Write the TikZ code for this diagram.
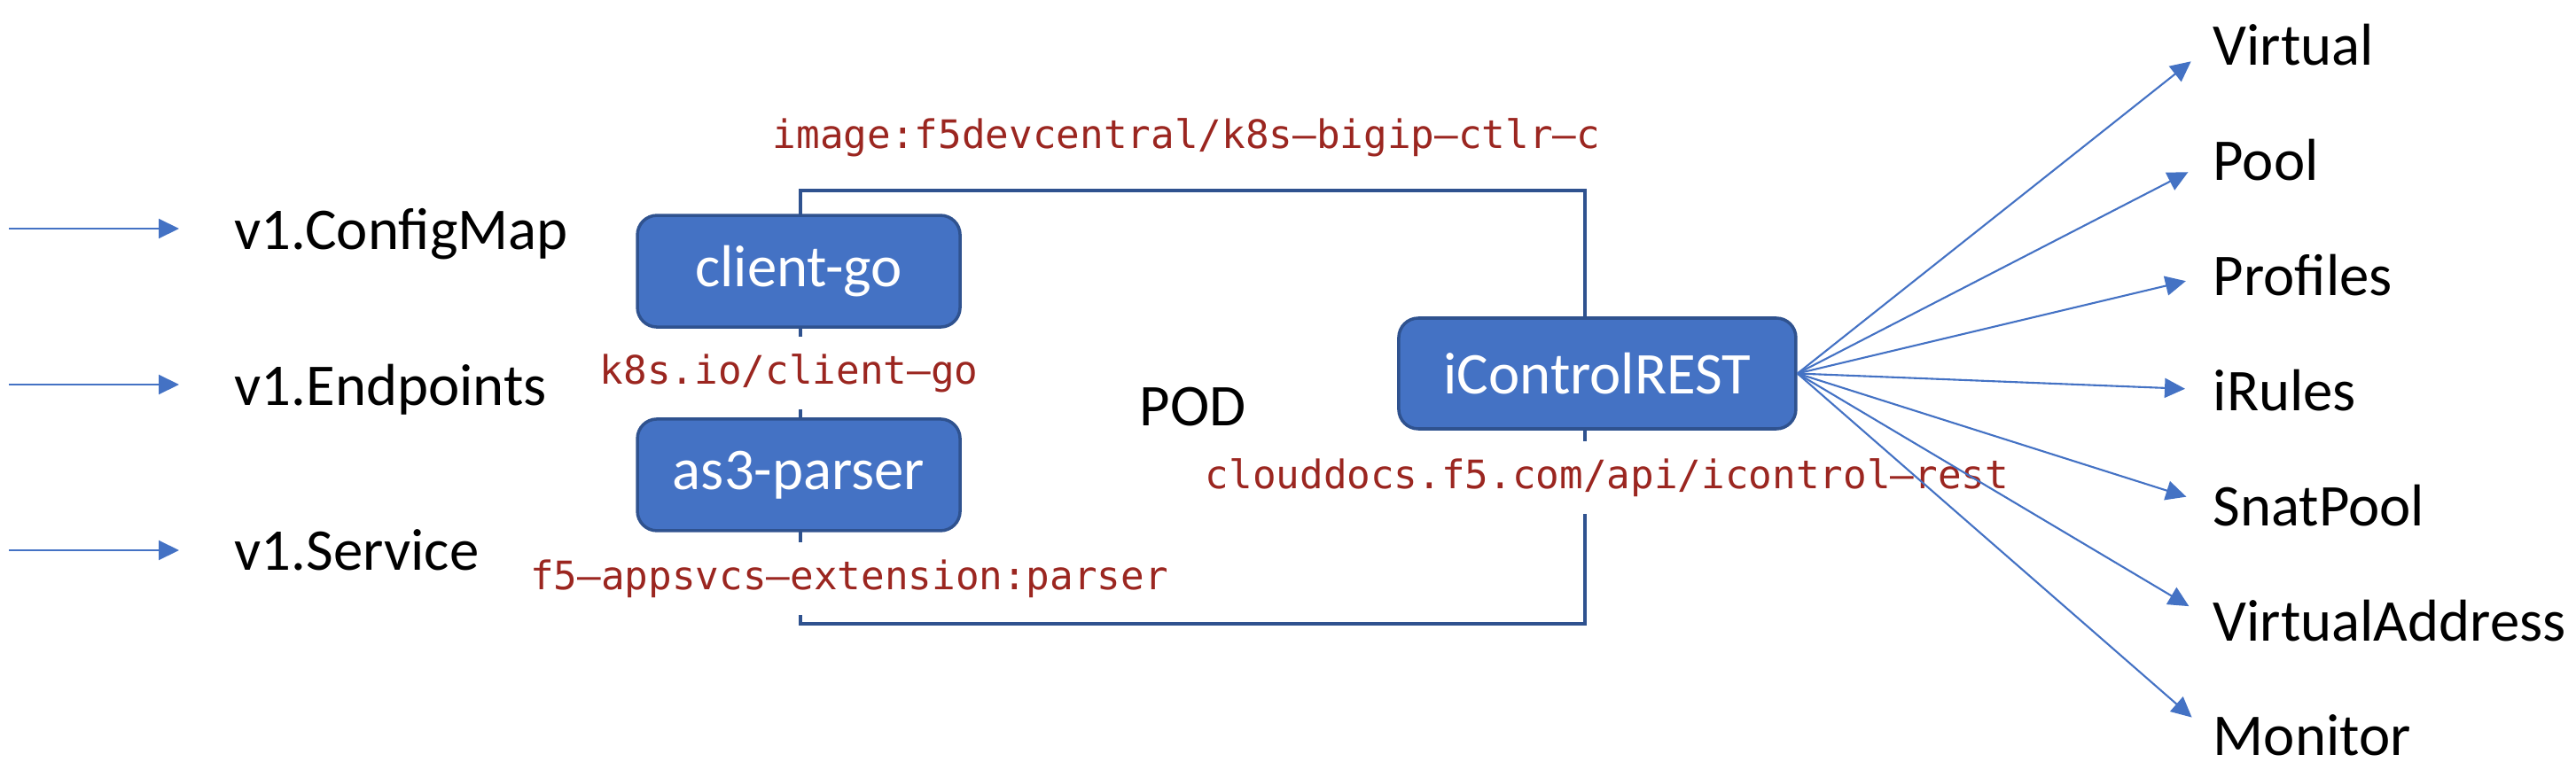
\documentclass[tikz,border=0pt]{standalone}
\usepackage{fontspec}
\setmainfont{Carlito}
\newfontfamily\codefont{DejaVu Sans Mono}
\usetikzlibrary{positioning, calc, arrows.meta}

\definecolor{boxblue}{HTML}{4472C4}
\definecolor{edgeblue}{HTML}{2F528F}
\definecolor{codered}{RGB}{155,38,32}

\begin{document}
\begin{tikzpicture}[
    block/.style={rectangle, rounded corners=0.22cm, draw=edgeblue, line width=1pt, fill=boxblue, text=white, font=\fontsize{19}{23}\selectfont},
    apiobj/.style={inner sep=0pt, anchor=west, text depth=0pt, font=\fontsize{19}{23}\selectfont},
    link/.style={draw=boxblue, line width=0.6pt, -{Triangle[length=0.23cm, width=0.22cm]}},
    srclabel/.style={fill=white, text=codered, minimum height=0.82cm, inner xsep=0.05cm, font=\codefont\fontsize{12.6}{15}\selectfont},
]
    \useasboundingbox (0,0) rectangle (29.06,8.68);

    % pod frame
    \node[draw=edgeblue, line width=1.1pt, minimum width=8.85cm, minimum height=4.89cm, font=\fontsize{19}{23}\selectfont] (pod) at (13.455,4.085) {POD};
    \node[block, minimum width=3.64cm, minimum height=1.26cm] (client) at ([yshift=-0.93cm]pod.north west) {client-go};
    \node[block, minimum width=3.64cm, minimum height=1.26cm] (parser) at ([yshift=1.70cm]pod.south west) {as3-parser};
    \node[block, minimum width=4.48cm, minimum height=1.25cm] (ictl) at ([xshift=0.12cm, yshift=0.38cm]pod.east) {iControlREST};

    \node[srclabel, above=0.16cm of pod.north, xshift=-0.07cm] (image) {image:f5devcentral/k8s–bigip–ctlr–c};
    \node[srclabel, xshift=-0.11cm] (clientsrc) at ($(client.south)!0.5!(parser.north)$) {k8s.io/client–go};
    \node[srclabel, xshift=0.57cm] (parsersrc) at ($(parser.south)!0.5!(pod.south west)$) {f5–appsvcs–extension:parser};
    \node[srclabel, below=0.12cm of ictl, xshift=0.11cm] (ictlsrc) {clouddocs.f5.com/api/icontrol–rest};

    % inputs
    \node[apiobj] (cfgmap) at (2.64,6.10) {v1.ConfigMap};
    \node[apiobj] (endpts) at (2.64,4.34) {v1.Endpoints};
    \node[apiobj] (svc) at (2.64,2.47) {v1.Service};
    \coordinate (cfgin) at (0.10,6.10);
    \coordinate (endin) at (0.10,4.34);
    \coordinate (svcin) at (0.10,2.47);
    \draw[link, shorten >=0.62cm] (cfgin) -- (cfgmap.west);
    \draw[link, shorten >=0.62cm] (endin) -- (endpts.west);
    \draw[link, shorten >=0.62cm] (svcin) -- (svc.west);

    % bigip objects
    \node[apiobj] (virt) at (24.96,8.18) {Virtual};
    \node[apiobj, below=1.3cm of virt.west, anchor=west] (pool) {Pool};
    \node[apiobj, below=1.3cm of pool.west, anchor=west] (prof) {Profiles};
    \node[apiobj, below=1.3cm of prof.west, anchor=west] (irule) {iRules};
    \node[apiobj, below=1.3cm of irule.west, anchor=west] (snat) {SnatPool};
    \node[apiobj, below=1.3cm of snat.west, anchor=west] (vaddr) {VirtualAddress};
    \node[apiobj, below=1.3cm of vaddr.west, anchor=west] (mon) {Monitor};

    \draw[link, shorten >=0.31cm] (ictl.east) -- (virt.west);
    \draw[link, shorten >=0.31cm] (ictl.east) -- (pool.west);
    \draw[link, shorten >=0.31cm] (ictl.east) -- (prof.west);
    \draw[link, shorten >=0.31cm] (ictl.east) -- (irule.west);
    \draw[link, shorten >=0.31cm] (ictl.east) -- (snat.west);
    \draw[link, shorten >=0.31cm] (ictl.east) -- (vaddr.west);
    \draw[link, shorten >=0.31cm] (ictl.east) -- (mon.west);
\end{tikzpicture}
\end{document}
